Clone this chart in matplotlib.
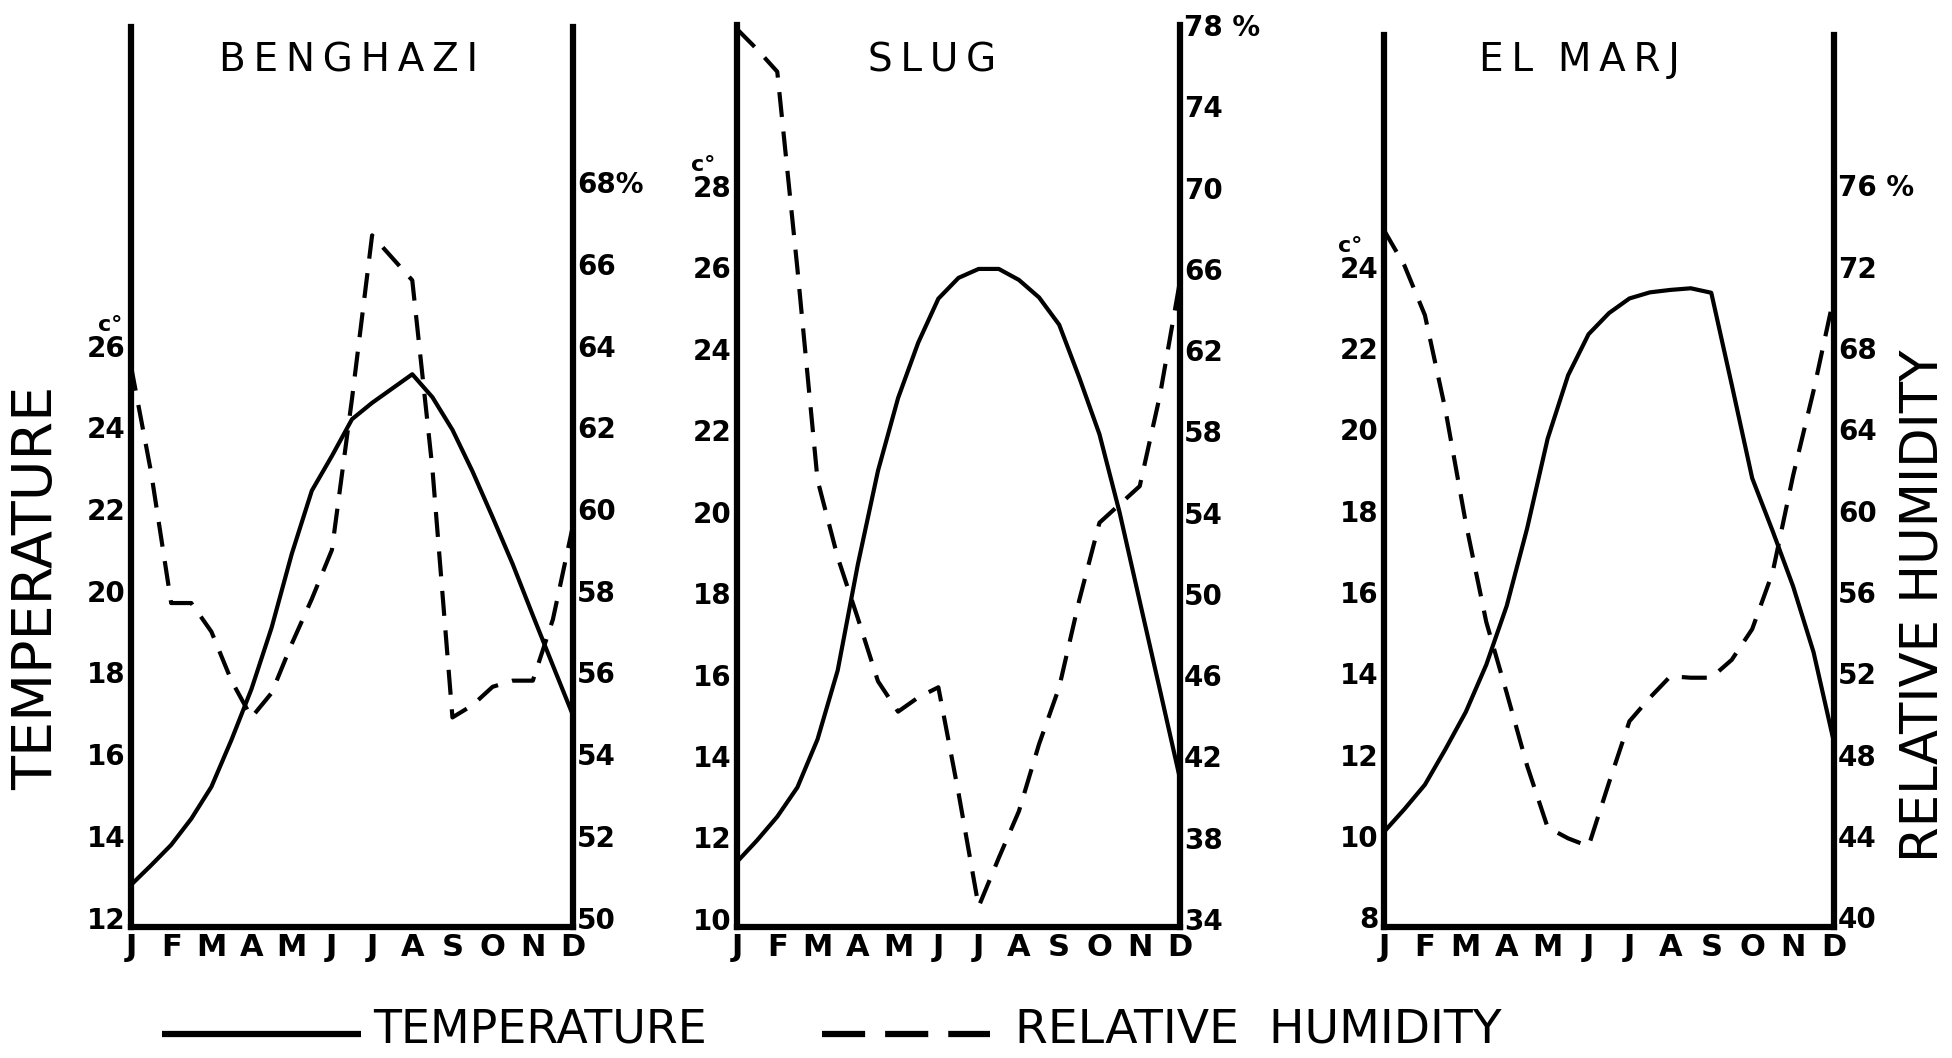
from __future__ import annotations

import matplotlib

matplotlib.use("Agg")
import matplotlib.pyplot as plt
import numpy as np
from matplotlib.lines import Line2D

MONTHS = ["J", "F", "M", "A", "M", "J", "J", "A", "S", "O", "N", "D"]
STATIONS = ["BENGHAZI", "SLUG", "EL MARJ"]

# values at every half month (J, mid-J, F, mid-F, ... D)
benghazi_temp = [12.8, 13.28, 13.78, 14.42, 15.2, 16.35, 17.6, 19.1, 20.9, 22.45, 23.3, 24.2,
                 24.6, 24.95, 25.3, 24.74, 23.94, 22.92, 21.8, 20.65, 19.4, 18.17, 16.95]
slug_temp = [11.4, 11.93, 12.51, 13.23, 14.41, 16.1, 18.7, 21.0, 22.79, 24.15, 25.23, 25.74,
             25.96, 25.96, 25.69, 25.26, 24.59, 23.29, 21.9, 19.98, 17.8, 15.63, 13.44]
elmarj_temp = [10.1, 10.66, 11.26, 12.13, 13.05, 14.21, 15.66, 17.57, 19.77, 21.33, 22.34, 22.86,
               23.22, 23.37, 23.43, 23.47, 23.36, 21.1, 18.8, 17.5, 16.14, 14.52, 12.3]

# relative humidity (%)
benghazi_hum = [63.5, 60.9, 57.7, 57.7, 57.0, 55.8, 54.9, 55.5, 56.7, 57.8, 59.0, 62.7,
                66.7, 66.15, 65.6, 61.0, 54.9, 55.2, 55.65, 55.8, 55.8, 57.3, 59.6]
slug_hum = [77.8, 76.8, 75.7, 66.0, 55.6, 51.8, 48.8, 45.7, 44.2, 44.9, 45.4, 40.2,
            34.6, 37.0, 39.3, 42.6, 45.4, 49.7, 53.5, 54.4, 55.3, 59.75, 65.4]
elmarj_hum = [73.8, 72.06, 69.62, 64.98, 59.4, 54.53, 51.04, 47.45, 44.43, 43.89, 43.5, 46.63,
              49.65, 50.81, 51.86, 51.79, 51.79, 52.67, 54.18, 56.97, 61.73, 65.9, 70.55]

benghazi_temp_ticks = [12, 14, 16, 18, 20, 22, 24, 26]
slug_temp_ticks = [10, 12, 14, 16, 18, 20, 22, 24, 26, 28]
elmarj_temp_ticks = [8, 10, 12, 14, 16, 18, 20, 22, 24]

benghazi_hum_ticks = [50, 52, 54, 56, 58, 60, 62, 64, 66, 68]
slug_hum_ticks = [34, 38, 42, 46, 50, 54, 58, 62, 66, 70, 74, 78]
elmarj_hum_ticks = [40, 44, 48, 52, 56, 60, 64, 68, 72, 76]

benghazi_hum_labels = ["50", "52", "54", "56", "58", "60", "62", "64", "66", "68%"]
slug_hum_labels = ["34", "38", "42", "46", "50", "54", "58", "62", "66", "70", "74", "78 %"]
elmarj_hum_labels = ["40", "44", "48", "52", "56", "60", "64", "68", "72", "76 %"]

W, H = 1952, 1058
THIN = "\u2009"


def px_rect(left, right, top, bottom):
    return [left / W, 1 - bottom / H, (right - left) / W, (bottom - top) / H]


def spaced(word):
    # the original lettering is widely tracked
    return "  ".join(THIN.join(part) for part in word.split(" "))


panels = [
    dict(name=STATIONS[0], temp=benghazi_temp, hum=benghazi_hum,
         tt=benghazi_temp_ticks, ht=benghazi_hum_ticks, hl=benghazi_hum_labels,
         rect=px_rect(131, 573, 27, 927), tlim=(11.77, 33.8), hlim=(49.77, 71.8),
         title_x=349, cx=-15),
    dict(name=STATIONS[1], temp=slug_temp, hum=slug_hum,
         tt=slug_temp_ticks, ht=slug_hum_ticks, hl=slug_hum_labels,
         rect=px_rect(737, 1180, 25, 927), tlim=(9.8, 31.95), hlim=(33.6, 77.9),
         title_x=932, cx=-24),
    dict(name=STATIONS[2], temp=elmarj_temp, hum=elmarj_hum,
         tt=elmarj_temp_ticks, ht=elmarj_hum_ticks, hl=elmarj_hum_labels,
         rect=px_rect(1384, 1834, 35, 927), tlim=(7.76, 29.7), hlim=(39.53, 83.4),
         title_x=1579, cx=-24),
]

fig = plt.figure(figsize=(W / 100, H / 100), dpi=100)
fig.patch.set_facecolor("white")

month_x = np.arange(len(MONTHS))
half_x = np.arange(0, len(MONTHS) - 0.5, 0.5)

for p in panels:
    ax = fig.add_axes(p["rect"])
    ax2 = ax.twinx()
    ax.plot(half_x, p["temp"], color="black", lw=3, solid_joinstyle="round")
    ax2.plot(half_x, p["hum"], color="black", lw=3, linestyle=(0, (6, 3.5)))
    ax.set_xlim(0, 11)
    ax.set_ylim(*p["tlim"])
    ax2.set_ylim(*p["hlim"])

    ax.set_xticks(month_x)
    ax.set_xticklabels(MONTHS, fontsize=22, fontweight="bold")
    ax.set_yticks(p["tt"])
    ax.set_yticklabels([str(t) for t in p["tt"]], fontsize=20, fontweight="bold")
    ax2.set_yticks(p["ht"])
    ax2.set_yticklabels(p["hl"], fontsize=20, fontweight="bold")
    ax.tick_params(axis="both", length=0, pad=4)
    ax2.tick_params(axis="y", length=0, pad=3)

    for s in ("top", "right"):
        ax.spines[s].set_visible(False)
    for s in ("top", "left", "bottom"):
        ax2.spines[s].set_visible(False)
    for s in ("left", "bottom"):
        ax.spines[s].set_linewidth(4.5)
    ax2.spines["right"].set_linewidth(4.5)

    ax.annotate("c°", xy=(0, p["tt"][-1]), xycoords=("axes fraction", "data"),
                xytext=(p["cx"], 15), textcoords="offset points",
                fontsize=16, fontweight="bold", ha="center", va="center")

    fig.text(p["title_x"] / W, 1 - 60 / H, spaced(p["name"]), fontsize=28,
             ha="center", va="center")

fig.text(37 / W, 1 - 588 / H, "TEMPERATURE", rotation=90, fontsize=40,
         ha="center", va="center")
fig.text(1923 / W, 1 - 606 / H, "RELATIVE HUMIDITY", rotation=90, fontsize=37,
         ha="center", va="center")

# legend along the bottom
leg_y = 1 - 1034 / H
fig.add_artist(Line2D([162 / W, 361 / W], [leg_y, leg_y], lw=4.5, color="black",
                      solid_capstyle="butt"))
fig.add_artist(Line2D([822 / W, 990 / W], [leg_y, leg_y], lw=4.5, color="black",
                      linestyle=(0, (6.9, 3.2)), dash_capstyle="butt"))
fig.text(373 / W, 1 - 1030 / H, "TEMPERATURE", fontsize=33, ha="left", va="center")
fig.text(1015 / W, 1 - 1030 / H, "RELATIVE  HUMIDITY", fontsize=34, ha="left", va="center")

fig.savefig("out.png", dpi=100)
plt.close(fig)
